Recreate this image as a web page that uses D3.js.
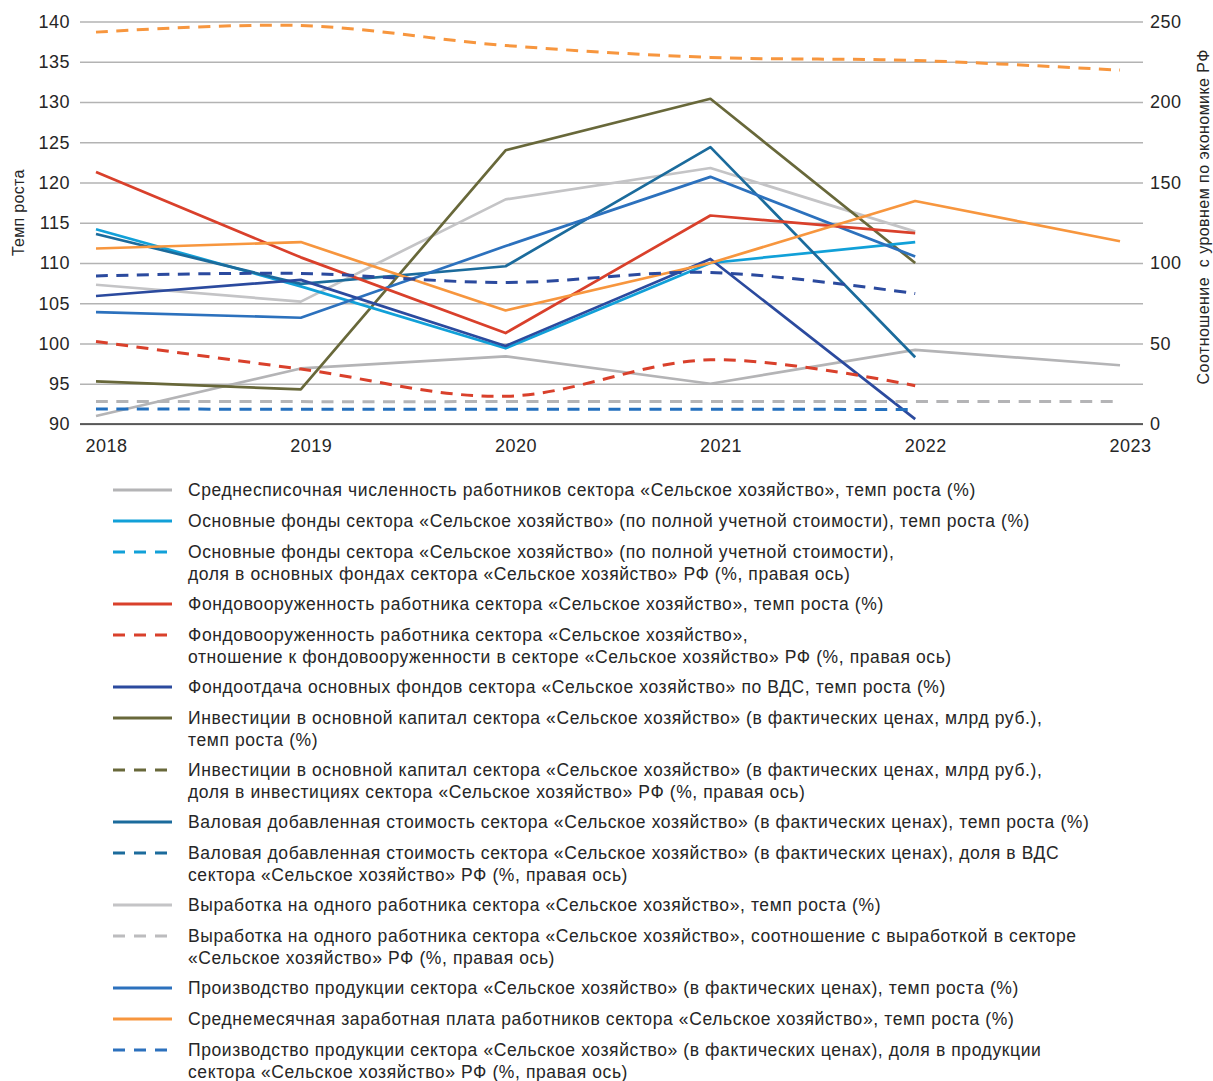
<!DOCTYPE html>
<html><head><meta charset="utf-8">
<script src="https://cdn.jsdelivr.net/npm/d3@7"></script>
<style>body{margin:0;background:#fff} svg{display:block} text{font-family:"Liberation Sans",Arial,sans-serif;fill:#262626}</style>
</head><body><svg id="c" width="1213" height="1081"></svg>
<script>
// ---------- data ----------
const years = [2018, 2019, 2020, 2021, 2022, 2023];
const leftTicks = [90, 95, 100, 105, 110, 115, 120, 125, 130, 135, 140];
const rightTicks = [0, 50, 100, 150, 200, 250];

// left axis (темп роста, %)
const employeesGrowth   = [91.0, 96.9, 98.4, 95.0, 99.2, 97.3];
const fundsGrowth       = [114.2, 107.1, 99.4, 110.0, 112.6, null];
const armingGrowth      = [121.3, 110.7, 101.3, 115.9, 113.7, null];
const returnGrowth      = [105.9, 107.9, 99.7, 110.5, 90.6, null];
const investGrowth      = [95.3, 94.3, 124.0, 130.4, 110.0, null];
const gvaGrowth         = [113.6, 107.4, 109.6, 124.4, 98.3, null];
const outputGrowth      = [107.3, 105.2, 117.9, 121.8, 113.9, null];
const productionGrowth  = [103.9, 103.2, 112.1, 120.7, 110.8, null];
const wageGrowth        = [111.8, 112.6, 104.1, 110.0, 117.7, 112.7];

// right axis (соотношение с уровнем по экономике РФ, %)
const wageRatio         = [243.4, 247.5, 235.1, 227.7, 225.8, 219.8];
const returnRatio       = [92.0, 93.5, 87.9, 94.1, 81.0, null];
const armingRatio       = [51.3, 34.1, 17.2, 39.9, 23.8, null];
const outputRatio       = [14.0, 13.9, 13.9, 13.9, 13.9, 13.9];
const productionRatio   = [9.3, 9.2, 9.2, 9.2, 9.0, null];

const chartSeries = [
  {values: employeesGrowth,  color: "#b4b4b6", dash: false, axis: "L"},
  {values: outputGrowth,     color: "#c4c4c6", dash: false, axis: "L"},
  {values: investGrowth,     color: "#68683a", dash: false, axis: "L"},
  {values: fundsGrowth,      color: "#11a0d8", dash: false, axis: "L"},
  {values: gvaGrowth,        color: "#1b6b9c", dash: false, axis: "L"},
  {values: productionGrowth, color: "#2c71bd", dash: false, axis: "L"},
  {values: armingGrowth,     color: "#d9402b", dash: false, axis: "L"},
  {values: returnGrowth,     color: "#2b4a9e", dash: false, axis: "L"},
  {values: wageGrowth,       color: "#f7963e", dash: false, axis: "L"},
  {values: outputRatio,      color: "#b4b4b6", dash: true,  axis: "R"},
  {values: productionRatio,  color: "#2470be", dash: true,  axis: "R"},
  {values: armingRatio,      color: "#d9402b", dash: true,  axis: "R"},
  {values: returnRatio,      color: "#2b4a9e", dash: true,  axis: "R"},
  {values: wageRatio,        color: "#f7963e", dash: true,  axis: "R"}
];

const legendLabels = [
  ["Среднесписочная численность работников сектора «Сельское хозяйство», темп роста (%)"],
  ["Основные фонды сектора «Сельское хозяйство» (по полной учетной стоимости), темп роста (%)"],
  ["Основные фонды сектора «Сельское хозяйство» (по полной учетной стоимости),", "доля в основных фондах сектора «Сельское хозяйство» РФ (%, правая ось)"],
  ["Фондовооруженность работника сектора «Сельское хозяйство», темп роста (%)"],
  ["Фондовооруженность работника сектора «Сельское хозяйство»,", "отношение к фондовооруженности в секторе «Сельское хозяйство» РФ (%, правая ось)"],
  ["Фондоотдача основных фондов сектора «Сельское хозяйство» по ВДС, темп роста (%)"],
  ["Инвестиции в основной капитал сектора «Сельское хозяйство» (в фактических ценах, млрд руб.),", "темп роста (%)"],
  ["Инвестиции в основной капитал сектора «Сельское хозяйство» (в фактических ценах, млрд руб.),", "доля в инвестициях сектора «Сельское хозяйство» РФ (%, правая ось)"],
  ["Валовая добавленная стоимость сектора «Сельское хозяйство» (в фактических ценах), темп роста (%)"],
  ["Валовая добавленная стоимость сектора «Сельское хозяйство» (в фактических ценах), доля в ВДС", "сектора «Сельское хозяйство» РФ (%, правая ось)"],
  ["Выработка на одного работника сектора «Сельское хозяйство», темп роста (%)"],
  ["Выработка на одного работника сектора «Сельское хозяйство», соотношение с выработкой в секторе", "«Сельское хозяйство» РФ (%, правая ось)"],
  ["Производство продукции сектора «Сельское хозяйство» (в фактических ценах), темп роста (%)"],
  ["Среднемесячная заработная плата работников сектора «Сельское хозяйство», темп роста (%)"],
  ["Производство продукции сектора «Сельское хозяйство» (в фактических ценах), доля в продукции", "сектора «Сельское хозяйство» РФ (%, правая ось)"]
];
const legendColors = ["#b4b4b6","#11a0d8","#11a0d8","#d9402b","#d9402b","#2b4a9e","#68683a","#68683a","#1b6b9c","#1b6b9c","#c4c4c6","#bcbcbe","#2c71bd","#f7963e","#2c71bd"];
const legendDashed = [false,false,true,false,true,false,false,true,false,true,false,true,false,false,true];

// ---------- chart ----------
const svg = d3.select("#c");
const plotL = 80, plotR = 1143, plotT = 21.5, plotB = 424;
const x = d3.scalePoint().domain(years).range([96, 1120]);
const yL = d3.scaleLinear().domain([90, 140]).range([plotB, plotT]);
const yR = d3.scaleLinear().domain([0, 250]).range([plotB, plotT]);

const tickFont = "18px", tickSpacing = "0.5px";

// left axis + gridlines
const gL = svg.append("g").attr("transform", `translate(${plotL},0)`)
  .call(d3.axisLeft(yL).tickValues(leftTicks).tickSize(-(plotR - plotL)).tickPadding(10));
gL.select(".domain").remove();
gL.selectAll(".tick line").attr("stroke", "#b3b3b3").attr("stroke-width", 1.3);
gL.selectAll(".tick text").style("font-size", tickFont).style("letter-spacing", tickSpacing).attr("fill", "#262626");

// right axis
const gR = svg.append("g").attr("transform", `translate(${plotR},0)`)
  .call(d3.axisRight(yR).tickValues(rightTicks).tickSize(0).tickPadding(7));
gR.select(".domain").remove();
gR.selectAll(".tick text").style("font-size", tickFont).style("letter-spacing", tickSpacing).attr("fill", "#262626");

// bottom axis
const gB = svg.append("g").attr("transform", `translate(0,${plotB})`)
  .call(d3.axisBottom(x).tickSize(0).tickPadding(15).tickFormat(d3.format("d")));
gB.select(".domain").remove();
gB.selectAll(".tick text").attr("dx", 10).style("font-size", tickFont).style("letter-spacing", tickSpacing).attr("fill", "#262626");
svg.append("line").attr("x1", plotL).attr("x2", plotR).attr("y1", yL(90)).attr("y2", yL(90))
  .attr("stroke", "#3a3a3a").attr("stroke-width", 1.6);

// axis titles
svg.append("text").attr("transform", `translate(24,${(plotT + plotB) / 2 - 10}) rotate(-90)`)
  .attr("text-anchor", "middle").style("font-size", "16px").style("letter-spacing", "0.3px").text("Темп роста");
svg.append("text").attr("transform", `translate(1209,${(plotT + plotB) / 2 - 6}) rotate(-90)`)
  .attr("text-anchor", "middle").style("font-size", "16px").style("letter-spacing", "0.45px").attr("xml:space", "preserve")
  .text("Соотношение  с уровнем по экономике РФ");

// lines
const lines = svg.append("g");
chartSeries.forEach(s => {
  const y = s.axis === "L" ? yL : yR;
  const gen = d3.line()
    .defined(d => d[1] != null)
    .x(d => x(d[0])).y(d => y(d[1]))
    .curve(s.dash ? d3.curveCatmullRom.alpha(0.5) : d3.curveLinear);
  lines.append("path")
    .datum(years.map((yr, i) => [yr, s.values[i]]))
    .attr("d", gen)
    .attr("fill", "none")
    .attr("stroke", s.color)
    .attr("stroke-width", s.dash ? 3 : 2.7)
    .attr("stroke-dasharray", s.dash ? "12 8.5" : null)
    .attr("stroke-linejoin", "round");
});

// legend
const lg = svg.append("g");
let ly = 490;
legendLabels.forEach((lines2, i) => {
  lg.append("line").attr("x1", 113).attr("x2", 172).attr("y1", ly).attr("y2", ly)
    .attr("stroke", legendColors[i]).attr("stroke-width", 3)
    .attr("stroke-dasharray", legendDashed[i] ? "12 9" : null);
  lines2.forEach((t, j) => {
    lg.append("text").attr("x", 188).attr("y", ly + j * 22).attr("dy", "0.34em")
      .style("font-size", "17.5px").style("letter-spacing", "0.6px").text(t);
  });
  ly += lines2.length > 1 ? 52 : 31;
});
</script></body></html>
